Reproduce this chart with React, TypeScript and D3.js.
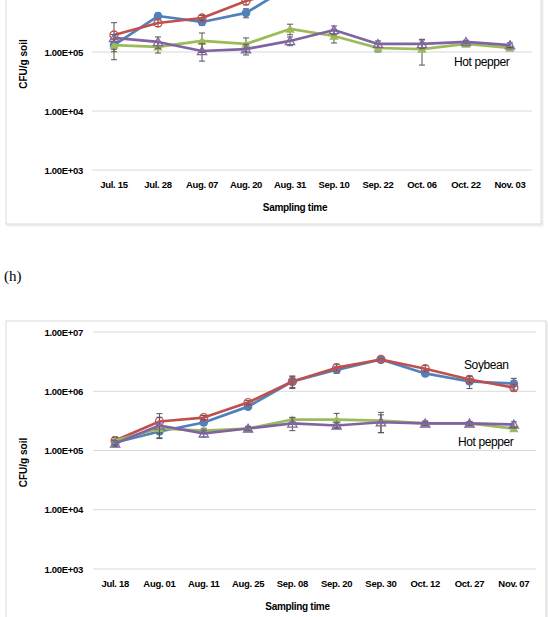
import * as d3 from 'd3'

const W = 548
const H = 617

// y axis decades shared by both panels
const decades = [1e3, 1e4, 1e5, 1e6, 1e7]
const fmtSci = (v: number) => {
  const e = Math.round(Math.log10(v))
  return `1.00E+${e < 10 ? '0' : ''}${e}`
}

// panel (g), partly above the page edge
const topDates = ['Jul. 15', 'Jul. 28', 'Aug. 07', 'Aug. 20', 'Aug. 31', 'Sep. 10', 'Sep. 22', 'Oct. 06', 'Oct. 22', 'Nov. 03']
const topBlue = [1.31e5, 4.07e5, 3.23e5, 4.6e5, 1.3e6, 2.1e6, 2.6e6, 2.3e6, 1.9e6, 1.6e6]
const topBlueSd = [0.3e5, 0.5e5, 0.4e5, 0.8e5, 2e5, 3e5, 3e5, 3e5, 2.5e5, 2e5]
const topRed = [1.94e5, 3.1e5, 3.77e5, 7.3e5, 1.2e6, 2.2e6, 2.8e6, 2.4e6, 1.8e6, 1.4e6]
const topRedSd = [1.2e5, 0.4e5, 0.4e5, 1e5, 2e5, 3e5, 3e5, 3e5, 2.5e5, 2e5]
const topGreen = [1.31e5, 1.22e5, 1.54e5, 1.37e5, 2.46e5, 1.87e5, 1.17e5, 1.12e5, 1.37e5, 1.17e5]
const topGreenSd = [0.2e5, 0.26e5, 0.56e5, 0.36e5, 0.5e5, 0.45e5, 0.17e5, 0.52e5, 0.1e5, 0.08e5]
const topPurple = [1.73e5, 1.48e5, 1.04e5, 1.12e5, 1.54e5, 2.36e5, 1.37e5, 1.37e5, 1.48e5, 1.31e5]
const topPurpleSd = [0.25e5, 0.32e5, 0.34e5, 0.23e5, 0.26e5, 0.4e5, 0.17e5, 0.23e5, 0.1e5, 0.12e5]

// panel (h)
const bottomDates = ['Jul. 18', 'Aug. 01', 'Aug. 11', 'Aug. 25', 'Sep. 08', 'Sep. 20', 'Sep. 30', 'Oct. 12', 'Oct. 27', 'Nov. 07']
const bottomBlue = [1.37e5, 2.09e5, 2.97e5, 5.5e5, 1.46e6, 2.3e6, 3.44e6, 2.0e6, 1.46e6, 1.35e6]
const bottomBlueSd = [0.15e5, 0.5e5, 0.3e5, 0.5e5, 0.3e6, 0.3e6, 0.1e6, 0.2e6, 0.35e6, 0.3e6]
const bottomRed = [1.47e5, 3.09e5, 3.6e5, 6.45e5, 1.46e6, 2.5e6, 3.44e6, 2.4e6, 1.58e6, 1.15e6]
const bottomRedSd = [0.2e5, 1.1e5, 0.3e5, 0.5e5, 0.35e6, 0.35e6, 0.1e6, 0.3e6, 0.2e6, 0.15e6]
const bottomGreen = [1.47e5, 2.35e5, 2.17e5, 2.35e5, 3.33e5, 3.33e5, 3.2e5, 2.86e5, 2.86e5, 2.35e5]
const bottomGreenSd = [0.2e5, 0.3e5, 0.2e5, 0.15e5, 0.3e5, 0.9e5, 1.2e5, 0.3e5, 0.2e5, 0.2e5]
const bottomPurple = [1.31e5, 2.64e5, 1.94e5, 2.35e5, 2.86e5, 2.64e5, 3.0e5, 2.86e5, 2.86e5, 2.75e5]
const bottomPurpleSd = [0.15e5, 1.0e5, 0.25e5, 0.2e5, 0.7e5, 0.3e5, 1.0e5, 0.2e5, 0.2e5, 0.3e5]

const BLUE = '#4F81BD'
const RED = '#C0504D'
const GREEN = '#9BBB59'
const PURPLE = '#8064A2'

const sans = 'Liberation Sans, Arial, sans-serif'

type Series = { values: number[]; sd: number[]; color: string; marker: 'dot' | 'ring' | 'tri' | 'opentri' }
type Note = { text: string; x: number; y: number }

const triPath = d3.symbol(d3.symbolTriangle, 38)()

const Marker = ({ s, x, y }: { s: Series; x: number; y: number }) => {
  if (s.marker === 'dot') return <circle cx={x} cy={y} r={4.3} fill={s.color} />
  if (s.marker === 'ring') return <circle cx={x} cy={y} r={4} fill='none' stroke={s.color} strokeWidth={1.3} />
  if (s.marker === 'tri')
    return <path d={triPath!} transform={`translate(${x},${y + 1})`} fill={s.color} />
  return <path d={triPath!} transform={`translate(${x},${y + 1})`} fill='none' stroke={s.color} strokeWidth={1.2} />
}

const Panel = ({ dates, series, left, right, y7, y3, frame, notes }: {
  dates: string[]
  series: Series[]
  left: number
  right: number
  y7: number
  y3: number
  frame: { x: number; y: number; w: number; h: number }
  notes: Note[]
}) => {
  const x = d3.scalePoint<string>().domain(dates).range([left, right]).padding(0.5)
  const y = d3.scaleLog().domain([1e3, 1e7]).range([y3, y7])
  const line = d3.line<number>().x((_, i) => x(dates[i])!).y(v => y(v))
  const midX = (left + right) / 2

  return (
    <g>
      <rect x={frame.x + 1.5} y={frame.y + 1.5} width={frame.w} height={frame.h} fill='none' stroke='#ededed' strokeWidth={2} />
      <rect x={frame.x} y={frame.y} width={frame.w} height={frame.h} fill='#fff' stroke='#d9d9d9' strokeWidth={1} />

      {decades.map(d => (
        <g key={d}>
          <line x1={left} x2={right} y1={y(d)} y2={y(d)} stroke='#d9d9d9' strokeWidth={1} />
          {/* labels scrolled past the page top are left out */}
          {y(d) > 8 && (
            <text x={83} y={y(d) + 3.5} textAnchor='end' fontFamily={sans} fontWeight='bold' fontSize={9.5} letterSpacing={-0.3} fill='#000'>
              {fmtSci(d)}
            </text>
          )}
        </g>
      ))}

      {dates.map(d => (
        <text key={d} x={x(d)} y={y3 + 18} textAnchor='middle' fontFamily={sans} fontWeight='bold' fontSize={9.5} letterSpacing={-0.3}>
          {d}
        </text>
      ))}

      <text x={midX - 17} y={y3 + 41} textAnchor='middle' fontFamily={sans} fontWeight='bold' fontSize={10} letterSpacing={-0.3}>
        Sampling time
      </text>
      <text transform={`translate(${27},${y(1e5) + 12}) rotate(-90)`} textAnchor='middle' fontFamily={sans} fontWeight='bold' fontSize={10}>
        CFU/g soil
      </text>

      {series.map((s, si) => (
        <g key={si}>
          {s.values.map((v, i) => {
            const cx = x(dates[i])!
            const hi = y(v + s.sd[i])
            const lo = y(Math.max(v - s.sd[i], 1e3))
            return (
              <g key={i} stroke='#555' strokeWidth={1}>
                <line x1={cx} x2={cx} y1={hi} y2={lo} />
                <line x1={cx - 3} x2={cx + 3} y1={hi} y2={hi} />
                <line x1={cx - 3} x2={cx + 3} y1={lo} y2={lo} />
              </g>
            )
          })}
          <path d={line(s.values)!} fill='none' stroke={s.color} strokeWidth={2.7} strokeLinejoin='round' />
          {s.values.map((v, i) => (
            <Marker key={i} s={s} x={x(dates[i])!} y={y(v)} />
          ))}
        </g>
      ))}

      {notes.map(n => (
        <text key={n.text} x={n.x} y={n.y} fontFamily={sans} fontSize={12} letterSpacing={-0.4} fill='#000'>
          {n.text}
        </text>
      ))}
    </g>
  )
}

export default function App() {
  const topSeries: Series[] = [
    { values: topBlue, sd: topBlueSd, color: BLUE, marker: 'dot' },
    { values: topRed, sd: topRedSd, color: RED, marker: 'ring' },
    { values: topGreen, sd: topGreenSd, color: GREEN, marker: 'tri' },
    { values: topPurple, sd: topPurpleSd, color: PURPLE, marker: 'opentri' },
  ]
  const bottomSeries: Series[] = [
    { values: bottomBlue, sd: bottomBlueSd, color: BLUE, marker: 'dot' },
    { values: bottomRed, sd: bottomRedSd, color: RED, marker: 'ring' },
    { values: bottomGreen, sd: bottomGreenSd, color: GREEN, marker: 'tri' },
    { values: bottomPurple, sd: bottomPurpleSd, color: PURPLE, marker: 'opentri' },
  ]

  return (
    <svg width={W} height={H} style={{ position: 'fixed', left: 0, top: 0, background: '#fff' }}>
      <Panel
        dates={topDates}
        series={topSeries}
        left={92}
        right={532}
        y7={-66}
        y3={170}
        frame={{ x: 6, y: -90, w: 535, h: 314 }}
        notes={[{ text: 'Hot pepper', x: 454, y: 66 }]}
      />

      <text x={4} y={281} fontFamily='Liberation Serif, Times New Roman, serif' fontSize={15}>(h)</text>

      <Panel
        dates={bottomDates}
        series={bottomSeries}
        left={93}
        right={536}
        y7={332}
        y3={569}
        frame={{ x: 6, y: 321, w: 540, h: 320 }}
        notes={[
          { text: 'Soybean', x: 464, y: 369 },
          { text: 'Hot pepper', x: 458, y: 446 },
        ]}
      />
    </svg>
  )
}
